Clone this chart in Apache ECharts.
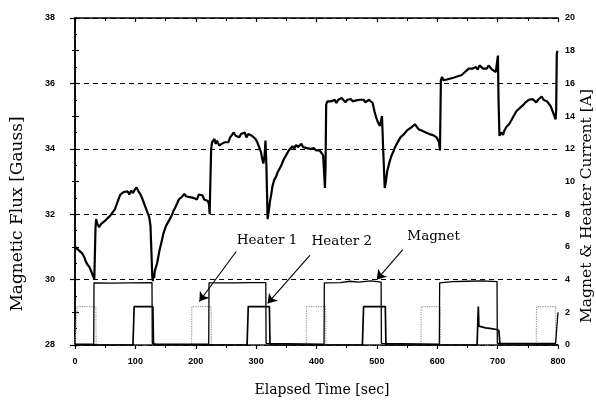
<!DOCTYPE html>
<html>
<head>
<meta charset="utf-8">
<script src="https://cdn.jsdelivr.net/npm/echarts@6/dist/echarts.min.js"></script>
<style>html,body{margin:0;padding:0;background:#fff}#c{width:596px;height:404px}</style>
</head>
<body>
<div id="c"></div>
<script>
// ---- data ----
const xTicks = [0, 100, 200, 300, 400, 500, 600, 700, 800];
const fluxTicks = [28, 30, 32, 34, 36, 38];
const currentTicks = [0, 2, 4, 6, 8, 10, 12, 14, 16, 18, 20];

// Magnetic flux [Gauss] vs time [sec]
const flux = [
[0,31.0],[3,30.95],[6,30.9],[9,30.85],[12,30.8],[15,30.7],[18,30.55],[21,30.45],[24,30.38],[27,30.25],[30,30.1],[32,30.02],[33.5,30.0],
[34,31.6],[35,31.85],[37,31.7],[40,31.6],[43,31.7],[46,31.72],[50,31.8],[54,31.88],[58,31.95],[62,32.05],[66,32.15],[69,32.3],[72,32.45],[75,32.6],[78,32.55],[81,32.68],[84,32.62],[87,32.7],[90,32.6],[93,32.72],[96,32.65],[99,32.75],[102,32.82],[105,32.7],[108,32.62],[111,32.5],[114,32.35],[117,32.2],[120,32.05],[123,31.9],[125,31.65],[127,31.7],
[128,30.1],[129,29.95],[130,30.2],[131,30.05],[132,30.25],[134,30.3],[136,30.5],[138,30.7],[140,30.9],[142,31.05],[144,31.2],[146,31.38],[148,31.5],[151,31.65],[154,31.75],[157,31.85],[160,31.95],[163,32.1],[166,32.2],[169,32.32],[172,32.45],[175,32.5],[178,32.55],[181,32.62],[184,32.55],[187,32.6],[190,32.52],[193,32.58],[196,32.5],[199,32.55],[202,32.45],[205,32.6],[208,32.55],[211,32.58],[214,32.45],[217,32.45],[220,32.4],[222,32.3],[223,32.0],[224.5,32.05],
[225.5,34.0],[227,34.2],[229,34.25],[231,34.3],[233,34.15],[235,34.25],[237,34.2],[239,34.1],[241,34.05],[243,34.15],[245,34.1],[248,34.2],[251,34.25],[254,34.2],[257,34.35],[260,34.4],[263,34.5],[266,34.4],[269,34.45],[272,34.35],[275,34.45],[278,34.4],[281,34.5],[284,34.35],[287,34.45],[290,34.5],[293,34.4],[296,34.35],[299,34.3],[302,34.2],[305,34.05],[308,33.9],[310,33.7],[312,33.55],[314,33.8],[315.5,34.25],
[317,33.5],[319,31.85],[321,32.1],[323,32.4],[325,32.6],[327,32.85],[330,33.05],[333,33.15],[336,33.3],[339,33.4],[342,33.5],[345,33.65],[348,33.75],[351,33.85],[354,33.95],[357,34.0],[360,34.08],[363,34.0],[366,34.12],[369,34.05],[372,34.1],[375,34.15],[378,34.05],[381,34.1],[384,34.02],[387,34.08],[390,34.0],[393,33.98],[396,34.02],[399,33.95],[402,33.9],[405,33.95],[408,33.88],[411,33.8],[413,33.75],[414,32.8],[415,33.5],
[416,35.35],[418,35.45],[421,35.5],[424,35.45],[427,35.4],[430,35.5],[433,35.4],[436,35.5],[439,35.45],[442,35.55],[445,35.5],[448,35.42],[451,35.5],[454,35.45],[457,35.52],[460,35.45],[463,35.5],[466,35.48],[469,35.42],[472,35.5],[475,35.45],[478,35.5],[481,35.42],[484,35.48],[487,35.5],[490,35.45],[493,35.4],[496,35.15],[499,34.95],[502,34.8],[505,34.7],[507,34.65],[508.5,35.0],
[510,34.2],[513,32.8],[515,33.0],[517,33.3],[519,33.45],[521,33.6],[524,33.78],[527,33.9],[530,34.05],[533,34.15],[536,34.25],[539,34.35],[542,34.4],[545,34.45],[548,34.5],[551,34.58],[554,34.55],[557,34.65],[560,34.6],[563,34.75],[566,34.7],[569,34.6],[572,34.62],[575,34.55],[578,34.58],[581,34.5],[584,34.52],[587,34.45],[590,34.48],[593,34.42],[596,34.38],[599,34.35],[601,34.3],[603,34.2],[604.5,33.95],
[606,36.1],[608,36.2],[610,36.1],[613,36.05],[616,36.12],[619,36.08],[622,36.15],[625,36.1],[628,36.18],[631,36.15],[634,36.22],[637,36.2],[640,36.25],[643,36.3],[646,36.35],[649,36.32],[652,36.45],[655,36.5],[658,36.45],[661,36.4],[664,36.5],[667,36.42],[670,36.55],[673,36.58],[676,36.45],[679,36.5],[682,36.45],[685,36.55],[688,36.5],[691,36.42],[694,36.4],[697,36.35],[699,36.4],[700.5,36.85],
[701.5,35.5],[703,34.4],[705,34.45],[707,34.5],[709,34.42],[711,34.55],[713,34.6],[715,34.68],[717,34.65],[719,34.75],[721,34.8],[723,34.88],[725,34.95],[728,35.05],[731,35.15],[734,35.2],[737,35.25],[740,35.3],[743,35.35],[746,35.42],[749,35.45],[752,35.5],[755,35.45],[758,35.52],[761,35.5],[764,35.42],[767,35.5],[770,35.55],[773,35.6],[776,35.5],[779,35.52],[782,35.45],[785,35.4],[788,35.3],[791,35.15],[794,35.0],[796,34.9],[797,35.2],[798,36.9],[799,37.0]
];

// Magnet current [A]
const magnet = [
[0,0.05],[31,0.05],[31.5,3.8],[60,3.78],[90,3.8],[127.5,3.82],[128,0.1],[135,0.05],[221.5,0.05],[222,3.8],[260,3.8],[290,3.82],[316,3.82],[316.5,0.1],[412.5,0.05],[413,3.8],[440,3.82],[455,3.9],[470,3.85],[490,3.92],[507,3.85],[507.5,0.1],[603.5,0.05],[604,3.8],[625,3.88],[650,3.9],[675,3.92],[699,3.88],[699.5,0.1],[796,0.1],[800,2.0]
];

// Heater 1 current [A]
const heater1 = [
[0,0],[3,0],[3.5,2.35],[34.5,2.35],[35,0],[193,0],[193.5,2.35],[225.5,2.35],[226,0],[383,0],[383.5,2.35],[415,2.35],[415.5,0],[573,0],[573.5,2.35],[605,2.35],[605.5,0],[764,0],[764.5,2.35],[796,2.35],[796.5,0],[800,0]
];

// Heater 2 current [A]
const heater2 = [
[0,0],[96,0],[98,2.35],[129,2.35],[130,0],[285,0],[287,2.35],[322,2.35],[323,0],[476,0],[478,2.35],[514,2.35],[515,0],[666,0],[668,2.35],[669,1.15],[680,1.05],[690,1.0],[698,0.95],[702,0.9],[704,0],[800,0]
];

// annotations: label text position and arrow (start -> end), in [time, flux] units
const labelNames = ['Heater 1', 'Heater 2', 'Magnet'];
const labelPos = [[318, 31.19], [442, 31.16], [594, 31.31]];
const arrowFrom = [[267, 30.86], [389, 30.74], [543, 30.92]];
const arrowTo = [[206, 29.33], [319, 29.27], [500, 30.0]];

// ---- chart ----
const chart = echarts.init(document.getElementById('c'), null, {renderer: 'canvas'});
const tickFont = {fontFamily: 'Liberation Sans', fontWeight: 'bold', fontSize: 9, color: '#000'};
const serif = 'DejaVu Serif';

const option = {
  backgroundColor: '#fff',
  animation: false,
  grid: {left: 75, right: 38, top: 18, bottom: 59, show: false},
  xAxis: [{
    type: 'value', min: xTicks[0], max: xTicks[xTicks.length - 1], interval: 100,
    axisLine: {lineStyle: {color: '#000', width: 1.5}},
    axisTick: {inside: false, length: 4, lineStyle: {color: '#000', width: 1.2}},
    minorTick: {show: true, splitNumber: 2, length: 3, lineStyle: {color: '#000'}},
    axisLabel: Object.assign({margin: 12}, tickFont),
    splitLine: {show: false}
  }, {
    type: 'value', position: 'top', min: xTicks[0], max: xTicks[xTicks.length - 1], interval: 100,
    axisLine: {lineStyle: {color: '#000', width: 1.5}},
    axisTick: {inside: true, length: 4, lineStyle: {color: '#000', width: 1.2}},
    minorTick: {show: true, splitNumber: 2, length: 3, lineStyle: {color: '#000'}},
    axisLabel: {show: false},
    splitLine: {show: false}
  }],
  yAxis: [{
    type: 'value', min: fluxTicks[0], max: fluxTicks[fluxTicks.length - 1], interval: 2,
    axisLine: {show: true, lineStyle: {color: '#000', width: 1.5}},
    axisTick: {show: true, length: 5, lineStyle: {color: '#000', width: 1.2}},
    minorTick: {show: true, splitNumber: 2, length: 3, lineStyle: {color: '#000'}},
    axisLabel: Object.assign({margin: 20}, tickFont),
    splitLine: {show: true, lineStyle: {color: '#000', type: [5, 4], width: 1.2}}
  }, {
    type: 'value', position: 'right', min: currentTicks[0], max: currentTicks[currentTicks.length - 1], interval: 2,
    axisLine: {show: true, lineStyle: {color: '#000', width: 1.5}},
    axisTick: {show: true, length: 4, lineStyle: {color: '#000', width: 1.2}},
    minorTick: {show: true, splitNumber: 2, length: 2, lineStyle: {color: '#000'}},
    axisLabel: Object.assign({margin: 7}, tickFont),
    splitLine: {show: false}
  }],
  series: [{
    name: 'Heater 1', type: 'line', yAxisIndex: 1, data: heater1, showSymbol: false,
    lineStyle: {color: '#9a9a9a', width: 1.2, type: 'dotted'}, z: 2
  }, {
    name: 'Heater 2', type: 'line', yAxisIndex: 1, data: heater2, showSymbol: false,
    lineStyle: {color: '#000', width: 1.7}, z: 3
  }, {
    name: 'Magnet', type: 'line', yAxisIndex: 1, data: magnet, showSymbol: false,
    lineStyle: {color: '#000', width: 1.3}, z: 3
  }, {
    name: 'Flux', type: 'line', yAxisIndex: 0, data: flux, showSymbol: false,
    lineStyle: {color: '#000', width: 2.2}, z: 4,
    markLine: {
      silent: true, symbol: ['none', 'arrow'], symbolSize: 9,
      lineStyle: {color: '#000', width: 1.1, type: 'solid'}, label: {show: false},
      data: arrowFrom.map((p, i) => [{coord: p}, {coord: arrowTo[i]}])
    },
    markPoint: {
      silent: true, symbol: 'circle', symbolSize: 0,
      label: {show: true, position: 'inside', fontFamily: serif, fontSize: 13.5, color: '#000',
        formatter: p => p.name},
      data: labelNames.map((n, i) => ({name: n, coord: labelPos[i]}))
    }
  }],
  graphic: [
    {type: 'text', x: 18, y: 214, rotation: Math.PI / 2,
      style: {text: 'Magnetic Flux [Gauss]', fontFamily: serif, fontSize: 17, fill: '#000', textAlign: 'center', textVerticalAlign: 'middle'}},
    {type: 'text', x: 587, y: 206, rotation: Math.PI / 2,
      style: {text: 'Magnet & Heater Current [A]', fontFamily: serif, fontSize: 15.5, fill: '#000', textAlign: 'center', textVerticalAlign: 'middle'}},
    {type: 'text', x: 322, y: 390,
      style: {text: 'Elapsed Time [sec]', fontFamily: serif, fontSize: 14, fill: '#000', textAlign: 'center', textVerticalAlign: 'middle'}}
  ]
};
chart.setOption(option);
</script>
</body>
</html>
